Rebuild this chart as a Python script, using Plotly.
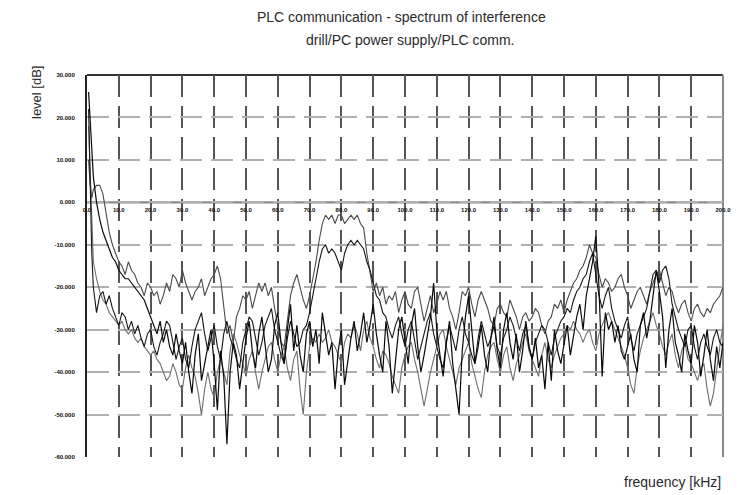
import plotly.graph_objects as go

# ---------------- data ----------------
freq_head = [0.5, 1, 1.5, 2, 3, 4, 5, 6, 7, 8, 9]
freq = freq_head + list(range(10, 201, 1))

# black noisy trace (drill)
level_drill = [
    26, 20, 12, 6, 0, -4, -7, -9, -11, -13, -14,
    -16, -17, -18, -18, -19, -20, -21, -22, -23, -25,
    -27, -29, -31, -28, -33, -30, -34, -36, -31, -35,
    -38, -33, -40, -45, -36, -31, -42, -38, -34, -30,
    -38, -49, -35, -41, -57, -40, -33, -36, -44, -38,
    -32, -28, -35, -39, -31, -27, -34, -40, -37, -29,
    -26, -33, -38, -30, -24, -35, -29, -36, -40, -31,
    -28, -34, -30, -38, -26, -31, -36, -33, -44, -35,
    -30, -43, -37, -32, -28, -35, -31, -26, -33, -29,
    -24, -31, -36, -40, -28, -34, -45, -38, -30, -27,
    -33, -38, -29, -25, -34, -40, -36, -31, -27, -19,
    -30, -36, -41, -33, -28, -38, -44, -50, -35, -27,
    -22, -31, -38, -34, -29, -36, -40, -32, -27, -35,
    -39, -30, -26, -33, -37, -31, -40, -35, -28, -34,
    -37, -32, -39, -36, -44, -33, -42, -30, -35, -38,
    -33, -29, -36, -31, -27, -24, -30, -22, -18, -14,
    -8, -20, -41, -26, -30, -28, -33, -29, -35, -37,
    -34, -31, -37, -40, -29, -26, -32, -28, -22, -16,
    -21, -27, -39, -30, -25, -33, -36, -40, -31, -35,
    -38, -29, -33, -41, -36, -30, -37, -42, -34, -39,
    -33,
]

# grey trace with the high PLC plateau
level_plc_high = [
    10, 4, 1, 3, 4, 4, 2, -3, -7, -10, -12,
    -14, -15, -17, -14, -16, -17, -19, -20, -22, -19,
    -20, -22, -21, -24, -22, -19, -21, -17, -18, -20,
    -16, -19, -21, -23, -21, -20, -18, -22, -20, -18,
    -17, -15, -18, -24, -31, -29, -33, -27, -25, -22,
    -23, -21, -25, -22, -19, -21, -19, -22, -20, -25,
    -29, -33, -34, -28, -22, -19, -17, -20, -23, -25,
    -22, -18, -14, -9, -5, -3, -4, -3, -5, -3,
    -3, -5, -4, -3, -4, -3, -5, -6, -12, -17,
    -21, -19, -22, -20, -24, -22, -23, -21, -26, -23,
    -21, -24, -25, -21, -20, -24, -28, -25, -22, -26,
    -24, -21, -23, -21, -25, -27, -30, -26, -21, -22,
    -20, -24, -27, -23, -21, -23, -25, -28, -29, -25,
    -24, -26, -27, -23, -25, -27, -30, -27, -26, -28,
    -27, -25, -26, -29, -31, -28, -27, -24, -25, -23,
    -26, -23, -21, -19, -18, -16, -15, -13, -10, -12,
    -13, -17, -20, -18, -19, -21, -20, -18, -17, -20,
    -22, -25, -23, -21, -20, -22, -24, -21, -19, -17,
    -16, -19, -22, -20, -21, -24, -26, -24, -23, -26,
    -28, -25, -24, -26, -27, -25, -26, -24, -23, -22,
    -20,
]

# black trace with the lower PLC plateau
level_plc_low = [
    22, 5, -12, -20, -26, -22, -21, -24, -22, -25, -27,
    -29, -26, -27, -30, -28, -31, -29, -32, -34, -31,
    -30, -34, -36, -33, -31, -28, -29, -33, -37, -34,
    -32, -37, -39, -34, -30, -28, -26, -31, -35, -32,
    -29, -34, -37, -31, -28, -32, -34, -37, -39, -33,
    -30, -27, -28, -32, -36, -33, -29, -27, -25, -30,
    -33, -36, -38, -32, -28, -31, -34, -33, -30, -29,
    -26, -22, -18, -14, -11, -10, -12, -11, -12, -14,
    -16, -12, -10, -9, -10, -9, -10, -11, -14, -16,
    -19, -22, -23, -26, -27, -30, -32, -29, -27, -31,
    -34, -30, -28, -33, -37, -34, -31, -28, -26, -31,
    -34, -37, -39, -33, -29, -32, -35, -30, -27, -31,
    -33, -36, -38, -32, -28, -31, -34, -32, -29, -34,
    -36, -32, -30, -27, -29, -32, -35, -31, -29, -34,
    -37, -33, -31, -29, -30, -33, -36, -32, -30, -28,
    -27, -25, -26, -23, -21, -20, -18, -17, -14, -12,
    -17, -22, -25, -22, -20, -25, -28, -30, -32, -29,
    -27, -32, -35, -31, -29, -27, -25, -21, -17, -16,
    -19, -16, -15, -18, -24, -27, -30, -32, -34, -30,
    -29, -34, -37, -33, -31, -34, -36, -32, -30, -33,
    -34,
]

# grey lower trace (PC power supply)
level_pc = [
    18, 8, -5, -14, -18, -21, -23, -24, -26, -27, -28,
    -29, -28, -30, -31, -30, -32, -33, -32, -34, -35,
    -36, -35, -37, -38, -40, -42, -41, -38, -40, -43,
    -44, -39, -36, -39, -41, -45, -50, -44, -40, -44,
    -46, -40, -37, -40, -43, -35, -31, -33, -36, -38,
    -41, -37, -35, -40, -44, -40, -37, -34, -33, -37,
    -40, -36, -34, -39, -42, -37, -35, -44, -50, -40,
    -34, -32, -33, -31, -33, -32, -30, -33, -34, -36,
    -38, -33, -31, -32, -29, -31, -35, -30, -28, -32,
    -34, -37, -39, -35, -36, -38, -41, -43, -45, -39,
    -36, -34, -33, -37, -40, -44, -48, -44, -40, -37,
    -34, -31, -30, -34, -37, -40, -43, -39, -37, -35,
    -33, -38, -41, -44, -46, -40, -36, -34, -33, -37,
    -40, -36, -34, -39, -42, -38, -36, -33, -31, -35,
    -37, -39, -41, -36, -33, -37, -39, -36, -34, -32,
    -31, -29, -30, -28, -30, -31, -33, -31, -30, -33,
    -35, -31, -29, -27, -26, -28, -30, -32, -34, -36,
    -39, -43, -45, -39, -35, -32, -30, -28, -26, -29,
    -31, -34, -36, -33, -31, -36, -39, -35, -33, -37,
    -38, -40, -42, -39, -38, -44, -48, -45, -39, -34,
    -29,
]

y_ticks = [30, 20, 10, 0, -10, -20, -30, -40, -50, -60]
y_tick_labels = ["30.000", "20.000", "10.000", "0.000", "-10.000", "-20.000",
                 "-30.000", "-40.000", "-50.000", "-60.000"]
x_ticks = list(range(0, 201, 10))
x_tick_labels = [f"{v:.1f}" for v in x_ticks]
dark_y_grid = [10, -20, -40]

# ---------------- figure ----------------
OFF = 8  # page body margin of the html page
W, H = 741, 495
L, R, T, B = 87 - OFF, 723 - OFF, 75 - OFF, 457 - OFF


def px(xp):
    return (xp - OFF - L) / (R - L)


def py(yp):
    return (B - (yp - OFF)) / (B - T)


fig = go.Figure()
series = [
    (level_pc, "#6e6e6e", 1.1),
    (level_plc_high, "#4a4a4a", 1.1),
    (level_plc_low, "#151515", 1.1),
    (level_drill, "#0a0a0a", 1.2),
]
for ys, col, w in series:
    assert len(freq) == len(ys), (len(freq), len(ys))
    fig.add_trace(go.Scatter(x=freq, y=ys, mode="lines",
                             line=dict(color=col, width=w), showlegend=False,
                             hoverinfo="skip"))

shapes = []
for v in dark_y_grid:
    shapes.append(dict(type="line", xref="x", yref="y", x0=0, x1=200, y0=v, y1=v,
                       line=dict(color="#2a2a2a", width=1.6, dash="22px,9px"),
                       layer="below"))
shapes.append(dict(type="line", xref="x", yref="y", x0=0, x1=200, y0=0, y1=0,
                   line=dict(color="#8a8a8a", width=2.2), layer="below"))
shapes.append(dict(type="line", xref="paper", yref="paper", x0=0, x1=1, y0=1, y1=1,
                   line=dict(color="#333333", width=2), layer="below"))
shapes.append(dict(type="line", xref="paper", yref="paper", x0=1, x1=1, y0=0, y1=1,
                   line=dict(color="#888888", width=2), layer="below"))

FONT = "Liberation Sans, Arial"
annotations = [
    dict(text="PLC communication - spectrum of interference", xref="paper", yref="paper",
         x=px(401), y=py(17), xanchor="center", yanchor="middle", showarrow=False,
         font=dict(family=FONT, size=14, color="#2a2a2a")),
    dict(text="drill/PC power supply/PLC comm.", xref="paper", yref="paper",
         x=px(410), y=py(40), xanchor="center", yanchor="middle", showarrow=False,
         font=dict(family=FONT, size=14, color="#2a2a2a")),
    dict(text="level [dB]", xref="paper", yref="paper", x=px(36), y=py(93),
         xanchor="center", yanchor="middle", textangle=-90, showarrow=False,
         font=dict(family=FONT, size=13, color="#2a2a2a")),
    dict(text="frequency [kHz]", xref="paper", yref="paper", x=px(723), y=py(482),
         xanchor="right", yanchor="middle", showarrow=False,
         font=dict(family=FONT, size=14, color="#2a2a2a")),
]

TICKFONT = dict(family=FONT, size=6, color="#111", weight=700)

fig.update_layout(
    width=W, height=H,
    margin=dict(l=L, r=W - R, t=T, b=H - B, pad=0),
    paper_bgcolor="white", plot_bgcolor="white",
    shapes=shapes, annotations=annotations,
    xaxis=dict(range=[0, 200], tickvals=x_ticks, ticktext=x_tick_labels,
               anchor="free", position=60 / 90, showline=False, zeroline=False,
               showgrid=True, gridcolor="#555555", gridwidth=1.6, griddash="22px,9px",
               ticks="", tickfont=TICKFONT, ticklabelstandoff=3, fixedrange=True),
    yaxis=dict(range=[-60, 30], tickvals=y_ticks, ticktext=y_tick_labels,
               showline=True, linecolor="#222", linewidth=2, zeroline=False,
               showgrid=True, gridcolor="#b0b0b0", gridwidth=1.6, griddash="22px,9px",
               ticks="", tickfont=TICKFONT, ticklabelstandoff=9, fixedrange=True),
)

fig.write_html("out.html")
